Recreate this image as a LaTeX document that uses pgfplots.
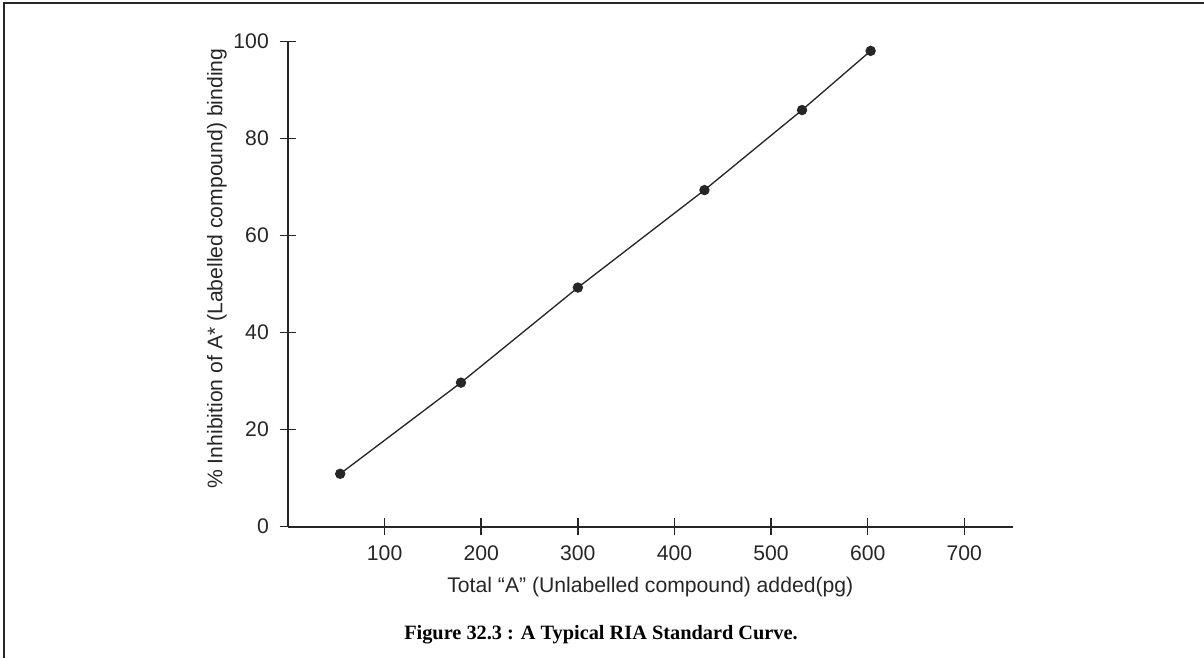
\documentclass[border=0pt]{standalone}
\usepackage{fontspec}
\setmainfont{Liberation Sans}
\newfontfamily\capfont{Liberation Serif}
\usepackage{pgfplots}
\pgfplotsset{compat=1.18}

\begin{document}
\begin{tikzpicture}
% canvas: 1204 x 658 px at 0.6pt per px
\path[use as bounding box] (0,0) rectangle (722.4pt,394.8pt);
% frame (only top and left edges show)
\draw[line width=1.2pt, black!85] (2.1pt,0) -- (2.1pt,393pt) -- (722.4pt,393pt);

\begin{axis}[
    at={(172.8pt,78.8pt)}, anchor=south west,
    scale only axis,
    width=434.8pt, height=291pt,
    xmin=0, xmax=750,
    ymin=0, ymax=100,
    axis lines*=left,
    axis line style={line width=1.1pt, black!85},
    xtick={100,200,...,700},
    ytick={0,20,...,100},
    tick align=center,
    major tick length=10pt,
    tick style={line width=0.9pt, black!85},
    /pgf/number format/assume math mode=true,
    ticklabel style={font=\fontsize{12.7}{14}\selectfont, text=black!85},
    xticklabel style={yshift=-3pt},
    yticklabel style={xshift=-3pt},
    xlabel={Total “A” (Unlabelled compound) added(pg)},
    ylabel={\% Inhibition of A* (Labelled compound) binding},
    xlabel style={font=\fontsize{12.7}{14}\selectfont, text=black!85,
        at={(axis description cs:0.5,-0.124)}, anchor=center},
    ylabel style={font=\fontsize{12.7}{14}\selectfont, text=black!85,
        at={(axis description cs:-0.098,0.532)}, anchor=center, rotate=0},
    clip=false,
]
\addplot [line width=0.8pt, black!85, mark=*, mark size=2.7pt,
          mark options={fill=black!85, draw=black!85}]
    coordinates {
        (54, 10.9)
        (179, 29.7)
        (300, 49.3)
        (431, 69.4)
        (532, 85.9)
        (603, 98.1)
    };
\end{axis}

\node at (360.6pt,13.8pt) {\capfont\bfseries\fontsize{12.2}{14}\selectfont Figure 32.3 : A Typical RIA Standard Curve.};
\end{tikzpicture}
\end{document}
